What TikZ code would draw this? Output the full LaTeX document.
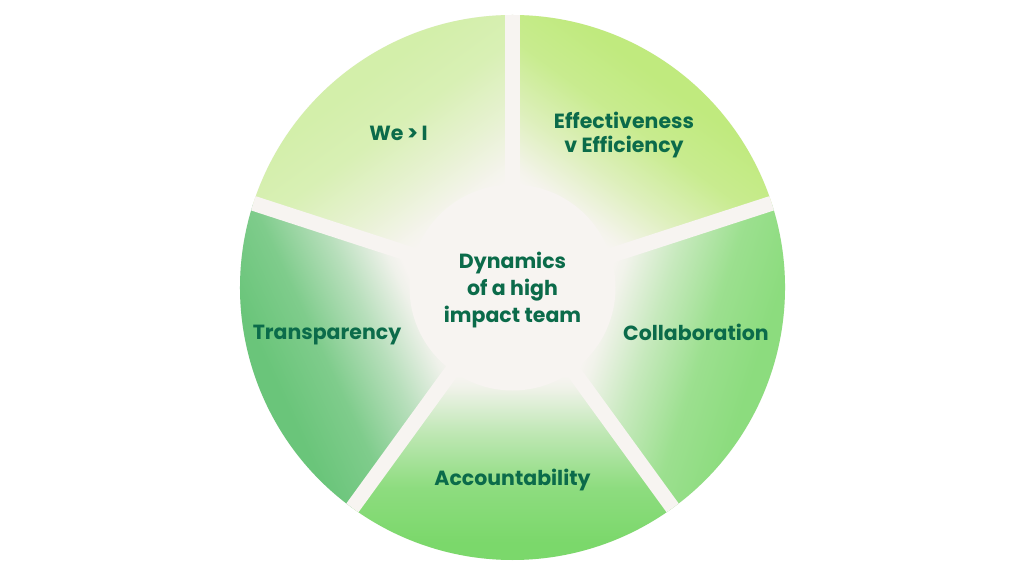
\documentclass[tikz,border=0pt]{standalone}
\usepackage{fontspec}
\setmainfont{Poppins}
\usetikzlibrary{calc}
\definecolor{beige}{HTML}{F7F4F1}
\definecolor{txtgreen}{HTML}{0B6B4A}
\definecolor{colWe}{HTML}{D3EFAA}
\definecolor{colEff}{HTML}{C0EA7E}
\definecolor{colCol}{HTML}{8CDC7E}
\definecolor{colAcc}{HTML}{7BD86B}
\definecolor{colTra}{HTML}{6AC57A}
\newcommand{\mkshade}[2]{%
  \colorlet{#1sa}{#2!6!beige}%
  \colorlet{#1sb}{#2!45!beige}%
  \colorlet{#1sc}{#2!85!beige}%
  \pgfdeclarehorizontalshading{#1}{600pt}{color(0pt)=(beige); color(88pt)=(beige); color(100pt)=(#1sa); color(145pt)=(#1sb); color(200pt)=(#1sc); color(255pt)=(#2); color(300pt)=(#2)}}
\mkshade{shWe}{colWe}
\mkshade{shEff}{colEff}
\mkshade{shCol}{colCol}
\mkshade{shAcc}{colAcc}
\mkshade{shTra}{colTra}
\tikzset{
  lbl/.style={text=txtgreen, font=\bfseries\fontsize{20.5}{25}\selectfont, align=center, inner sep=0pt},
  shadebox/.style={inner sep=0pt, outer sep=0pt, anchor=west},
  gapline/.style={draw=beige, line width=15pt}
}
\newcommand{\sector}[4]{% shading, start angle, end angle, shade direction
  \begin{scope}
    \clip (c) -- ++(#2:272.5) arc[start angle=#2, end angle=#3, radius=272.5] -- cycle;
    \node[shadebox, rotate=#4] (sh#1) at (c) {\pgfuseshading{#1}};
  \end{scope}}
\begin{document}
\begin{tikzpicture}[x=1pt, y=1pt]
  \useasboundingbox (0,0) rectangle (1024,576);
  \fill[white] (0,0) rectangle (1024,576);
  \coordinate (c) at (512.5,288.5);
  \fill[beige] (c) circle[radius=272.5];
  \sector{shWe}{90}{162}{126}
  \sector{shEff}{18}{90}{54}
  \sector{shCol}{-54}{18}{-18}
  \sector{shAcc}{-126}{-54}{-90}
  \sector{shTra}{162}{234}{205}
  \begin{scope}
    \clip (c) circle[radius=272.5];
    \foreach \a/\n in {90/g1, 18/g2, -54/g3, -126/g4, 162/g5}{
      \coordinate (\n) at ($(c)+(\a:280)$);
      \draw[gapline] (c) -- (\n);
    }
  \end{scope}
  \node[circle, fill=beige, minimum size=206pt, inner sep=0pt] (hub) at (c) {};
  \node[lbl, font=\bfseries\fontsize{20.5}{27}\selectfont] (title) at (512.5,286) {Dynamics\\of a high\\impact team};
  \node[lbl] (we) at (398.5,443) {We\,>\,I};
  \node[lbl, font=\bfseries\fontsize{20.5}{24}\selectfont] (eff) at (624,441) {Effectiveness\\v Efficiency};
  \node[lbl] (col) at (696,244) {Collaboration};
  \node[lbl] (tra) at (327,241) {Transparency};
  \node[lbl] (acc) at (512.5,96) {Accountability};
\end{tikzpicture}
\end{document}
